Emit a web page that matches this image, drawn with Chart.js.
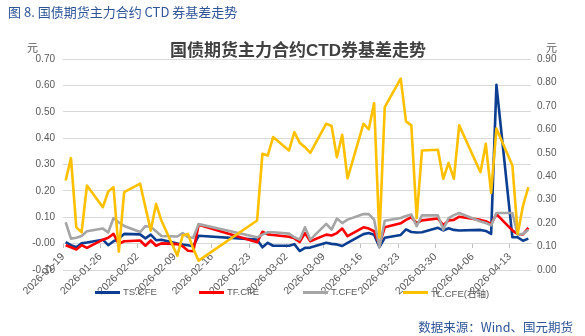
<!DOCTYPE html>
<html>
<head>
<meta charset="utf-8">
<script src="https://cdn.jsdelivr.net/npm/chart.js@4.4.1/dist/chart.umd.min.js"></script>
<style>
  body { margin: 0; background: #fff; }
  #wrap { position: relative; width: 585px; height: 336px; overflow: hidden; font-family: "Liberation Sans", "Noto Sans CJK SC", sans-serif; }
  #chart { position: absolute; left: 0; top: 0; }
  .abs { position: absolute; white-space: nowrap; }
  #figTitle { left: 8px; top: 2px; font-size: 13px; color: #2f5597; font-family: "Noto Sans CJK SC", sans-serif; }
  #chartTitle { left: 0; width: 596px; text-align: center; top: 36px; font-size: 17px; font-weight: bold; color: #404040; }
  .unit { top: 39px; font-size: 11px; color: #595959; font-family: "Noto Sans CJK SC", sans-serif; }
  .swatch { position: absolute; width: 25px; height: 3px; top: 291px; }
  .lbl { position: absolute; top: 286px; font-size: 9.5px; color: #595959; }
  #source { right: 12px; top: 317px; font-size: 12.5px; color: #2f5597; font-family: "Noto Sans CJK SC", sans-serif; }
</style>
</head>
<body>
<div id="wrap">
  <canvas id="chart" width="585" height="336"></canvas>
  <div class="abs" id="figTitle">图 8. 国债期货主力合约 CTD 券基差走势</div>
  <div class="abs" id="chartTitle">国债期货主力合约CTD券基差走势</div>
  <div class="abs unit" style="left:27px;">元</div>
  <div class="abs unit" style="left:546px;">元</div>
  <div id="legend"></div>
  <div class="abs" id="source">数据来源：Wind、国元期货</div>
</div>
<script>
// 交易日
const dates = [
    '2026-01-19', '2026-01-20', '2026-01-21', '2026-01-22', '2026-01-23',
    '2026-01-26', '2026-01-27', '2026-01-28', '2026-01-29', '2026-01-30',
    '2026-02-02', '2026-02-03', '2026-02-04', '2026-02-05', '2026-02-06',
    '2026-02-09', '2026-02-10', '2026-02-11', '2026-02-12', '2026-02-13',
    '2026-02-24', '2026-02-25', '2026-02-26', '2026-02-27',
    '2026-03-02', '2026-03-03', '2026-03-04', '2026-03-05', '2026-03-06',
    '2026-03-09', '2026-03-10', '2026-03-11', '2026-03-12', '2026-03-13',
    '2026-03-16', '2026-03-17', '2026-03-18', '2026-03-19', '2026-03-20',
    '2026-03-23', '2026-03-24', '2026-03-25', '2026-03-26', '2026-03-27',
    '2026-03-30', '2026-03-31', '2026-04-01', '2026-04-02', '2026-04-03',
    '2026-04-07', '2026-04-08', '2026-04-09', '2026-04-10',
    '2026-04-13', '2026-04-14', '2026-04-15', '2026-04-16'
];

// 横轴刻度 (每周一)
const tickLabels = [
    '2026-01-19', '2026-01-26', '2026-02-02', '2026-02-09', '2026-02-16',
    '2026-02-23', '2026-03-02', '2026-03-09', '2026-03-16', '2026-03-23',
    '2026-03-30', '2026-04-06', '2026-04-13'
];

// 基差 (元)
const tsBasis = [
    0.006, -0.006, -0.014, 0.001, 0.004,
    0.015, -0.006, 0.009, 0.018, 0.037,
    0.035, 0.020, 0.034, 0.013, 0.015,
    0.000, -0.003, -0.006, -0.010, 0.030,
    0.015, -0.014, 0.003, -0.008,
    -0.008, -0.002, -0.028, -0.016, -0.015,
    0.003, -0.001, -0.003, -0.009, 0.003,
    0.036, 0.040, 0.034, -0.013, 0.022,
    0.033, 0.054, 0.044, 0.042, 0.043,
    0.060, 0.050, 0.058, 0.052, 0.050,
    0.052, 0.048, 0.037, 0.602,
    0.024, 0.024, 0.011, 0.019
];
const tfBasis = [
    -0.006, -0.014, -0.022, -0.006, -0.016,
    0.015, 0.022, 0.037, -0.001, 0.009,
    0.012, -0.008, 0.012, -0.008, 0.001,
    -0.002, -0.010, -0.027, -0.029, 0.072,
    0.005, 0.045, 0.035, 0.033,
    0.026, 0.020, 0.006, 0.040, 0.009,
    0.034, 0.031, 0.040, 0.057, 0.028,
    0.062, 0.057, 0.047, -0.004, 0.062,
    0.077, 0.090, 0.100, 0.078, 0.088,
    0.095, 0.070, 0.088, 0.090, 0.102,
    0.090, 0.085, 0.075, 0.112,
    0.050, 0.036, 0.035, 0.060
];
const tBasis = [
    0.081, 0.019, 0.022, 0.029, 0.047,
    0.057, 0.042, 0.097, 0.080, 0.067,
    0.044, 0.066, 0.064, 0.047, 0.029,
    0.027, 0.040, 0.024, 0.022, 0.074,
    0.024, 0.034, 0.043, 0.043,
    0.038, 0.024, 0.015, 0.062, 0.015,
    0.075, 0.053, 0.095, 0.078, 0.091,
    0.112, 0.112, 0.091, -0.014, 0.087,
    0.097, 0.105, 0.110, 0.066, 0.107,
    0.107, 0.053, 0.097, 0.108, 0.116,
    0.084, 0.078, 0.069, 0.116,
    0.116, 0.034, 0.037, 0.053
];
// 右轴
const tlBasis = [
    0.382, 0.477, 0.182, 0.161, 0.360,
    0.268, 0.335, 0.353, 0.078, 0.332,
    0.368, 0.268, 0.168, 0.282, 0.211,
    0.061, 0.147, 0.154, 0.090, 0.040,
    0.211, 0.496, 0.488, 0.567,
    0.510, 0.588, 0.543, 0.524, 0.500,
    0.624, 0.614, 0.481, 0.577, 0.391,
    0.624, 0.600, 0.712, 0.139, 0.695,
    0.816, 0.634, 0.617, 0.221, 0.510,
    0.513, 0.389, 0.457, 0.389, 0.617,
    0.417, 0.538, 0.329, 0.603,
    0.446, 0.154, 0.275, 0.353
];

const series = [
    { label: 'TS.CFE', data: tsBasis, color: '#0b3d91', axis: 'y', order: 3 },
    { label: 'TF.CFE', data: tfBasis, color: '#ff0000', axis: 'y', order: 2 },
    { label: 'T.CFE', data: tBasis, color: '#a5a5a5', axis: 'y', order: 1 },
    { label: 'TL.CFE(右轴)', data: tlBasis, color: '#ffc000', axis: 'y1', order: 0 }
];

// 按日历天数定位 (日期轴)
const dayIndex = d => (Date.parse(d) - Date.parse(dates[0])) / 86400000;
const toPoints = vals => dates.map((d, i) => ({ x: dayIndex(d), y: vals[i] }));

const tickFont = { family: '"Liberation Sans", Arial, sans-serif', size: 10 };

new Chart(document.getElementById('chart').getContext('2d'), {
    type: 'line',
    data: {
        datasets: series.map(s => ({
            label: s.label,
            data: toPoints(s.data),
            borderColor: s.color,
            backgroundColor: s.color,
            borderWidth: 2.6,
            pointRadius: 0,
            tension: 0,
            fill: false,
            borderJoinStyle: 'round',
            yAxisID: s.axis,
            order: s.order
        }))
    },
    options: {
        responsive: false,
        animation: false,
        layout: { padding: { top: 59, bottom: 66, left: 0, right: 0 } },
        plugins: {
            legend: { display: false },
            tooltip: { enabled: false }
        },
        scales: {
            x: {
                type: 'linear',
                min: -0.5,
                max: dayIndex(dates[dates.length - 1]) + 0.5,
                position: { y: 0 },
                afterBuildTicks: scale => {
                    scale.ticks = tickLabels.map((_, i) => ({ value: i * 7 - 0.5 }));
                },
                grid: { drawOnChartArea: false, drawTicks: true, tickLength: 4, color: '#bfbfbf' },
                border: { display: true, color: '#d9d9d9' },
                ticks: {
                    autoSkip: false,
                    minRotation: 45,
                    maxRotation: 45,
                    padding: 3,
                    color: '#595959',
                    font: { family: tickFont.family, size: 10.5 },
                    callback: (v, i) => tickLabels[i]
                }
            },
            y: {
                position: 'left',
                min: -0.1,
                max: 0.7,
                afterFit: scale => { scale.width = 63; },
                grid: { color: '#d9d9d9', drawTicks: false },
                border: { display: false },
                ticks: {
                    stepSize: 0.1,
                    padding: 8,
                    color: '#595959',
                    font: tickFont,
                    callback: v => v.toFixed(2)
                }
            },
            y1: {
                position: 'right',
                min: 0,
                max: 0.9,
                afterFit: scale => { scale.width = 54; },
                grid: { display: false, drawTicks: false },
                border: { display: false },
                ticks: {
                    stepSize: 0.1,
                    padding: 6,
                    color: '#595959',
                    font: tickFont,
                    callback: v => v.toFixed(2)
                }
            }
        }
    }
});

// 图例 (叠在横轴标签上)
const legend = document.getElementById('legend');
const legendX = [95, 199, 303, 403];
series.forEach((s, i) => {
    const sw = document.createElement('div');
    sw.className = 'swatch';
    sw.style.left = legendX[i] + 'px';
    sw.style.background = s.color;
    legend.appendChild(sw);
    const t = document.createElement('div');
    t.className = 'lbl';
    t.style.left = (legendX[i] + 28) + 'px';
    t.textContent = s.label;
    legend.appendChild(t);
});
</script>
</body>
</html>
